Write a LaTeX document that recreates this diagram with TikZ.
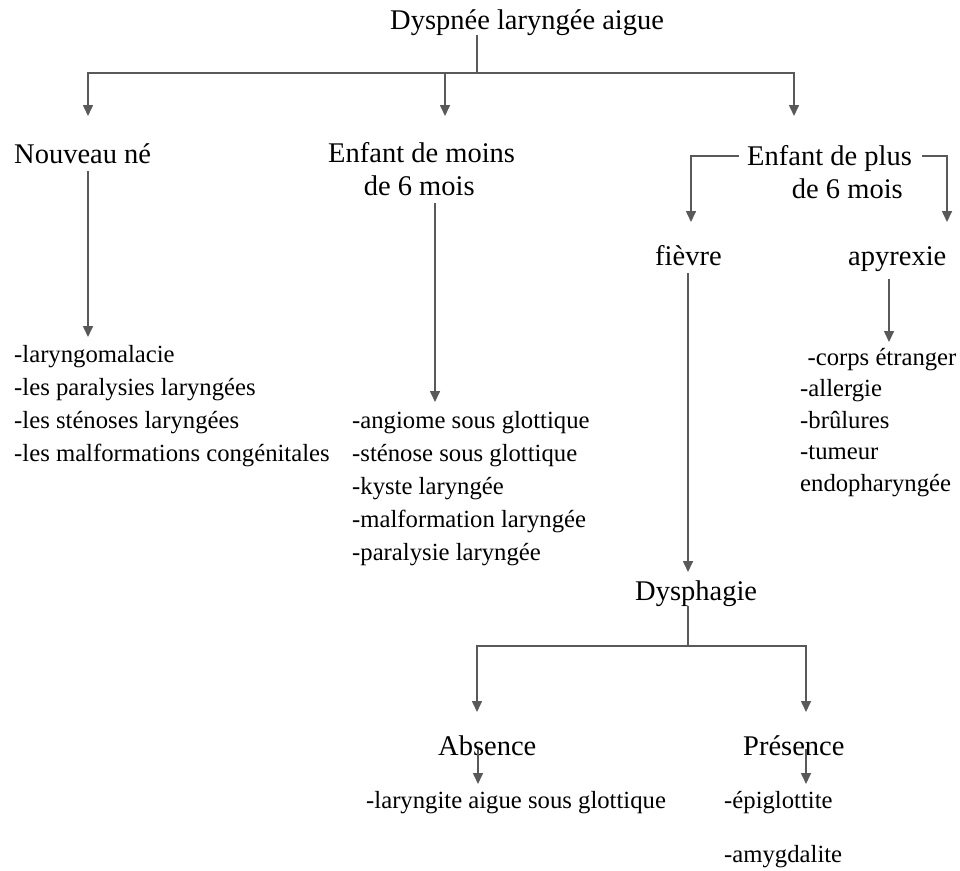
\documentclass[tikz,border=0pt]{standalone}
\usepackage{fontspec}
\setmainfont{Liberation Serif}
\usetikzlibrary{arrows.meta}
\tikzset{
  hd/.style={inner sep=0pt, anchor=base west, font=\fontsize{28.5}{33}\selectfont},
  lst/.style={inner sep=0pt, anchor=base west, align=left, font=\fontsize{24.7}{33}\selectfont},
  ln/.style={draw=black!65, line width=1.6pt},
  fl/.style={ln, -{Triangle[length=11pt,width=10pt]}},
}
\begin{document}
\begin{tikzpicture}[x=1pt,y=-1pt]
  \useasboundingbox (0,0) rectangle (960,870);
  % labels (multi-line ones sit on the baseline of their last line)
  \node[hd] (dla) at (390,29) {Dyspnée laryngée aigue};
  \node[hd] (nn) at (14,163) {Nouveau né};
  \node[hd, align=left] (em) at (328,195) {Enfant de moins\\\hspace*{1.25em}de 6 mois};
  \node[hd, align=left] (ep) at (747,198) {Enfant de plus\\\hspace*{1.57em}de 6 mois};
  \node[hd] (fi) at (655,265) {fièvre};
  \node[hd] (ap) at (848,265) {apyrexie};
  \node[hd] (dy) at (635,600) {Dysphagie};
  \node[hd] (ab) at (438,755) {Absence};
  \node[hd] (pr) at (743,755) {Présence};
  % lists
  \node[lst] (lnn) at (14,461) {-laryngomalacie\\-les paralysies laryngées\\-les sténoses laryngées\\-les malformations congénitales};
  \node[lst] (lem) at (352,560) {-angiome sous glottique\\-sténose sous glottique\\-kyste laryngée\\-malformation laryngée\\-paralysie laryngée};
  \node[lst, font=\fontsize{24.7}{31.5}\selectfont] (lap) at (800,491) {\hspace*{0.3em}-corps étranger\\-allergie\\-brûlures\\-tumeur\\endopharyngée};
  \node[lst] (lab) at (366,808) {-laryngite aigue sous glottique};
  \node[lst] (lpr) at (724,862) {-épiglottite\\[21pt]-amygdalite};
  % junctions and arrow ends
  \coordinate (j0) at (477,73);
  \coordinate (t1) at (88,116);
  \coordinate (t2) at (445,116);
  \coordinate (t3) at (794,116);
  \coordinate (epl) at (739,156);
  \coordinate (epr) at (922,156);
  \coordinate (tf) at (691,222);
  \coordinate (ta) at (947,222);
  \coordinate (e1) at (88,337);
  \coordinate (e2) at (435,402);
  \coordinate (e3) at (889,342);
  \coordinate (e4) at (688,572);
  \coordinate (j1) at (688,646);
  \coordinate (tab) at (477,712);
  \coordinate (tpr) at (806,712);
  \coordinate (eab) at (478,784);
  \coordinate (epr2) at (806,784);
  % connectors
  \draw[ln] (dla.south -| j0) -- (j0);
  \draw[fl] (j0) -| (t1);
  \draw[fl] (j0) -| (t3);
  \draw[fl] (j0 -| t2) -- (t2);
  \draw[fl] ([yshift=-8pt]nn.south -| e1) -- (e1);
  \draw[fl] ([yshift=-8pt]em.south -| e2) -- (e2);
  \draw[fl] (epl) -| (tf);
  \draw[fl] (epr) -| (ta);
  \draw[fl] ([yshift=-8pt]fi.south -| e4) -- (e4);
  \draw[fl] ([yshift=-8pt]ap.south -| e3) -- (e3);
  \draw[ln] (dy.south -| j1) -- (j1);
  \draw[fl] (j1) -| (tab);
  \draw[fl] (j1) -| (tpr);
  \draw[fl] ([yshift=6pt]ab.south -| eab) -- (eab);
  \draw[fl] ([yshift=6pt]pr.south -| epr2) -- (epr2);
\end{tikzpicture}
\end{document}
